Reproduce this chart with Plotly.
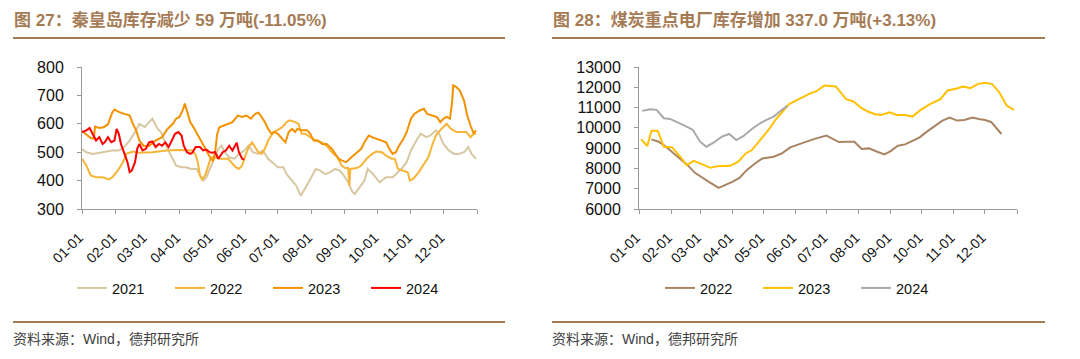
import pandas as pd
import plotly.graph_objects as go

# ---------------- data ----------------
# Left chart: Qinhuangdao port coal inventory (10k t), x = day of year
qhd_2021_day = [0, 4, 10, 16, 22, 28, 34, 39, 44, 49, 53, 58, 62, 65, 70, 73, 76, 79, 83, 87, 92, 96, 101, 106,
                109, 112, 115, 119, 122, 126, 129, 132, 136, 141, 145, 150, 154, 158, 163, 167, 172, 176, 181,
                186, 189, 194, 198, 202, 206, 211, 216, 220, 225, 229, 234, 238, 241, 246, 250, 252, 256, 261,
                264, 269, 275, 281, 287, 292, 295, 300, 304, 309, 313, 318, 322, 327, 330, 334, 339, 344, 348,
                353, 357, 360, 364]
qhd_2021 = [510, 500, 494, 498, 502, 506, 506, 518, 541, 571, 600, 588, 606, 618, 582, 571, 541, 512, 482, 453,
            447, 447, 441, 441, 418, 400, 412, 447, 477, 512, 523, 500, 482, 477, 494, 506, 523, 500, 494, 506,
            477, 465, 447, 447, 423, 400, 382, 347, 371, 406, 441, 435, 423, 429, 441, 435, 423, 394, 359, 353,
            376, 400, 441, 423, 394, 412, 412, 429, 441, 465, 506, 541, 565, 553, 559, 577, 565, 529, 506, 494,
            494, 500, 518, 494, 477]

qhd_2022_day = [0, 4, 8, 13, 19, 25, 28, 33, 38, 41, 47, 53, 65, 78, 90, 102, 105, 107, 109, 111, 114, 117, 119,
                121, 128, 135, 139, 142, 145, 148, 151, 154, 157, 160, 163, 166, 169, 172, 177, 180, 185, 189,
                192, 197, 200, 203, 206, 211, 216, 221, 226, 231, 236, 240, 243, 246, 247, 248, 254, 258, 263,
                268, 272, 277, 281, 286, 289, 292, 297, 301, 303, 306, 311, 315, 320, 324, 327, 332, 337, 341,
                346, 350, 355, 359, 362, 364]
qhd_2022 = [477, 453, 418, 412, 412, 404, 412, 435, 465, 494, 502, 498, 500, 506, 508, 506, 490, 465, 418, 405,
            420, 455, 480, 482, 477, 477, 459, 447, 441, 453, 488, 518, 535, 518, 500, 494, 512, 541, 571, 577,
            588, 606, 612, 606, 600, 565, 565, 553, 541, 535, 523, 500, 482, 453, 444, 444, 382, 441, 444, 453,
            477, 494, 502, 500, 488, 477, 477, 441, 435, 429, 400, 406, 429, 453, 482, 529, 559, 582, 600, 582,
            571, 571, 571, 553, 565, 565]

qhd_2023_day = [0, 4, 8, 11, 12, 16, 20, 24, 28, 30, 34, 39, 44, 47, 50, 53, 57, 62, 68, 74, 79, 84, 87, 90, 93,
                95, 97, 100, 104, 109, 112, 116, 119, 121, 123, 125, 127, 131, 135, 139, 144, 148, 152, 156, 160,
                163, 166, 169, 172, 175, 178, 181, 185, 188, 191, 194, 197, 199, 203, 208, 211, 214, 218, 222,
                226, 231, 234, 237, 240, 244, 249, 254, 258, 261, 265, 268, 272, 277, 281, 284, 287, 290, 293,
                297, 300, 304, 307, 312, 316, 319, 323, 328, 331, 334, 337, 340, 342, 343, 346, 349, 353, 356,
                359, 362, 364]
qhd_2023 = [575, 562, 550, 548, 590, 585, 588, 598, 640, 650, 642, 635, 630, 600, 577, 541, 523, 522, 541, 553,
            582, 600, 618, 624, 647, 671, 641, 606, 582, 547, 523, 494, 477, 470, 500, 565, 588, 594, 600, 606,
            629, 624, 629, 618, 635, 639, 624, 606, 582, 565, 571, 565, 547, 535, 571, 582, 571, 582, 577, 577,
            565, 541, 541, 529, 529, 512, 494, 477, 471, 465, 482, 500, 512, 535, 559, 553, 547, 541, 535, 512,
            494, 500, 523, 547, 571, 618, 635, 647, 653, 635, 629, 624, 606, 618, 624, 618, 676, 735, 729, 718,
            682, 629, 594, 565, 577]

qhd_2024_day = [0, 4, 7, 9, 11, 13, 16, 19, 21, 24, 27, 30, 32, 34, 36, 40, 42, 44, 46, 49, 51, 53, 56, 59, 62,
                65, 68, 71, 74, 77, 80, 83, 86, 89, 92, 94, 97, 100, 102, 105, 109, 112, 115, 118, 120, 123, 126,
                130, 133, 136, 139, 143, 145, 148, 150]
qhd_2024 = [571, 577, 585, 571, 557, 541, 553, 529, 535, 553, 535, 541, 582, 565, 529, 488, 465, 430, 435, 465,
            512, 529, 506, 512, 535, 538, 518, 529, 523, 535, 518, 541, 565, 571, 559, 523, 500, 494, 498, 518,
            518, 506, 509, 500, 498, 500, 477, 500, 506, 523, 506, 533, 500, 477, 474]

# Right chart: key power plants coal inventory (10k t)
plant_2022_day = [12, 19, 26, 32, 40, 47, 54, 62, 69, 77, 83, 90, 97, 104, 112, 119, 130, 138, 146, 155, 168,
                  181, 188, 193, 200, 208, 215, 222, 230, 237, 243, 250, 257, 264, 271, 278, 285, 293, 300, 307,
                  314, 322, 328, 334, 340, 350]
plant_2022 = [9434, 9318, 9070, 8823, 8493, 8163, 7783, 7502, 7288, 7040, 7172, 7337, 7535, 7915, 8245, 8493,
              8575, 8740, 9038, 9210, 9434, 9616, 9434, 9302, 9318, 9318, 8955, 8988, 8823, 8691, 8856, 9120,
              9186, 9351, 9533, 9814, 10061, 10358, 10507, 10358, 10391, 10507, 10441, 10391, 10292, 9698]

plant_2023_day = [2, 8, 12, 18, 24, 32, 40, 46, 53, 61, 69, 76, 82, 88, 96, 103, 109, 117, 125, 133, 145, 151,
                  159, 166, 171, 179, 190, 196, 200, 207, 215, 221, 228, 234, 242, 249, 256, 264, 272, 281, 291,
                  298, 306, 313, 320, 327, 334, 341, 348, 355, 362]
plant_2023 = [9434, 9104, 9863, 9863, 9070, 9038, 8575, 8163, 8377, 8212, 8030, 8113, 8113, 8129, 8328, 8740,
              8905, 9401, 9896, 10474, 11168, 11330, 11547, 11712, 11795, 12092, 12042, 11630, 11415, 11300,
              10969, 10804, 10672, 10639, 10771, 10639, 10639, 10556, 10887, 11168, 11415, 11845, 11927, 12042,
              11960, 12158, 12224, 12158, 11745, 11102, 10887]

plant_2024_day = [3, 11, 17, 24, 30, 36, 46, 52, 59, 65, 72, 80, 87, 94, 101, 109, 117, 123, 130, 136, 143]
plant_2024 = [10837, 10920, 10887, 10474, 10441, 10309, 10061, 9896, 9318, 9070, 9269, 9566, 9698, 9401, 9599,
              9946, 10226, 10391, 10556, 10804, 11085]

month_labels = ["01-01", "02-01", "03-01", "04-01", "05-01", "06-01",
                "07-01", "08-01", "09-01", "10-01", "11-01", "12-01"]

title_left = "图 27：秦皇岛库存减少 59 万吨(-11.05%)"
title_right = "图 28：煤炭重点电厂库存增加 337.0 万吨(+3.13%)"
source_text = "资料来源：Wind，德邦研究所"

# ---------------- helpers ----------------
BASE = pd.Timestamp("2021-01-01")


def to_dates(days):
    return [BASE + pd.Timedelta(days=int(d)) for d in days]


tick_vals = [pd.Timestamp("2021-" + m) for m in month_labels] + [pd.Timestamp("2022-01-01")]
tick_text = month_labels + [""]

LAT = "Liberation Sans, Arial, Noto Sans CJK SC, sans-serif"
CJK = "Liberation Sans, Noto Sans CJK SC, sans-serif"
BROWN = "#a57b55"
AXIS_GRAY = "#9a9a9a"

fig = go.Figure()

left_series = [
    ("2021", qhd_2021_day, qhd_2021, "#d8c8a2"),
    ("2022", qhd_2022_day, qhd_2022, "#f7b538"),
    ("2023", qhd_2023_day, qhd_2023, "#f39200"),
    ("2024", qhd_2024_day, qhd_2024, "#ff0000"),
]
for name, d, v, c in left_series:
    fig.add_trace(go.Scatter(x=to_dates(d), y=v, name=name, mode="lines",
                             line=dict(color=c, width=2), xaxis="x", yaxis="y",
                             legend="legend"))

right_series = [
    ("2022", plant_2022_day, plant_2022, "#aa8462"),
    ("2023", plant_2023_day, plant_2023, "#ffc000"),
    ("2024", plant_2024_day, plant_2024, "#a9a9a9"),
]
for name, d, v, c in right_series:
    fig.add_trace(go.Scatter(x=to_dates(d), y=v, name=name, mode="lines",
                             line=dict(color=c, width=2), xaxis="x2", yaxis="y2",
                             legend="legend2"))

# the page body adds an 8px offset, so the figure is 8px smaller and shifted
OFF = 8
W, H = 1080 - OFF, 359 - OFF


def px_x(p):
    return (p - OFF) / W


def px_y(p):
    return 1 - (p - OFF) / H


xcommon = dict(type="date", range=[pd.Timestamp("2021-01-01"), pd.Timestamp("2022-01-01")],
               tickmode="array", tickvals=tick_vals, ticktext=tick_text, tickangle=-45,
               showline=True, linecolor=AXIS_GRAY, linewidth=1, ticks="outside", ticklen=4,
               tickcolor=AXIS_GRAY, showgrid=False, zeroline=False, automargin=False,
               ticklabelstandoff=10, ticklabelshift=-3,
               tickfont=dict(family=LAT, size=14, color="#111111"))
ycommon = dict(showline=True, linecolor=AXIS_GRAY, linewidth=1, ticks="outside", ticklen=4,
               tickcolor=AXIS_GRAY, showgrid=False, zeroline=False, automargin=False,
               tickformat="d",
               tickfont=dict(family=LAT, size=16, color="#111111"), ticklabelstandoff=10)

legend_common = dict(orientation="h", xanchor="center", yanchor="middle", y=px_y(288),
                     font=dict(family=LAT, size=14.5, color="#111111"), entrywidth=53,
                     bgcolor="rgba(0,0,0,0)")

fig.update_layout(
    template="none",
    width=W, height=H,
    margin=dict(l=0, r=0, t=0, b=0, autoexpand=False),
    paper_bgcolor="white", plot_bgcolor="white",
    xaxis=dict(domain=[px_x(82), px_x(477)], anchor="y", **xcommon),
    yaxis=dict(domain=[px_y(209), px_y(67)], anchor="x", range=[300, 800], dtick=100, **ycommon),
    xaxis2=dict(domain=[px_x(639), px_x(1017)], anchor="y2", **xcommon),
    yaxis2=dict(domain=[px_y(209), px_y(67)], anchor="x2", range=[6000, 13000], dtick=1000, **ycommon),
    legend=dict(x=px_x(268), **legend_common),
    legend2=dict(x=px_x(807), **legend_common),
    showlegend=True,
)

# titles, rules and source lines
for x0, x1, title in [(13, 505, title_left), (552, 1045, title_right)]:
    fig.add_annotation(xref="paper", yref="paper", x=px_x(x0 - 1), y=px_y(20), xanchor="left",
                       yanchor="middle", text="<b>" + title + "</b>", showarrow=False,
                       font=dict(family=CJK, size=17, color=BROWN))
    fig.add_annotation(xref="paper", yref="paper", x=px_x(x0 - 2), y=px_y(339), xanchor="left",
                       yanchor="middle", text=source_text, showarrow=False,
                       font=dict(family=CJK, size=14, color="#404040"))
    for yy in (38, 322):
        fig.add_shape(type="line", xref="paper", yref="paper", x0=px_x(x0), x1=px_x(x1),
                      y0=px_y(yy), y1=px_y(yy), line=dict(color=BROWN, width=2))

fig.write_html("out.html")
